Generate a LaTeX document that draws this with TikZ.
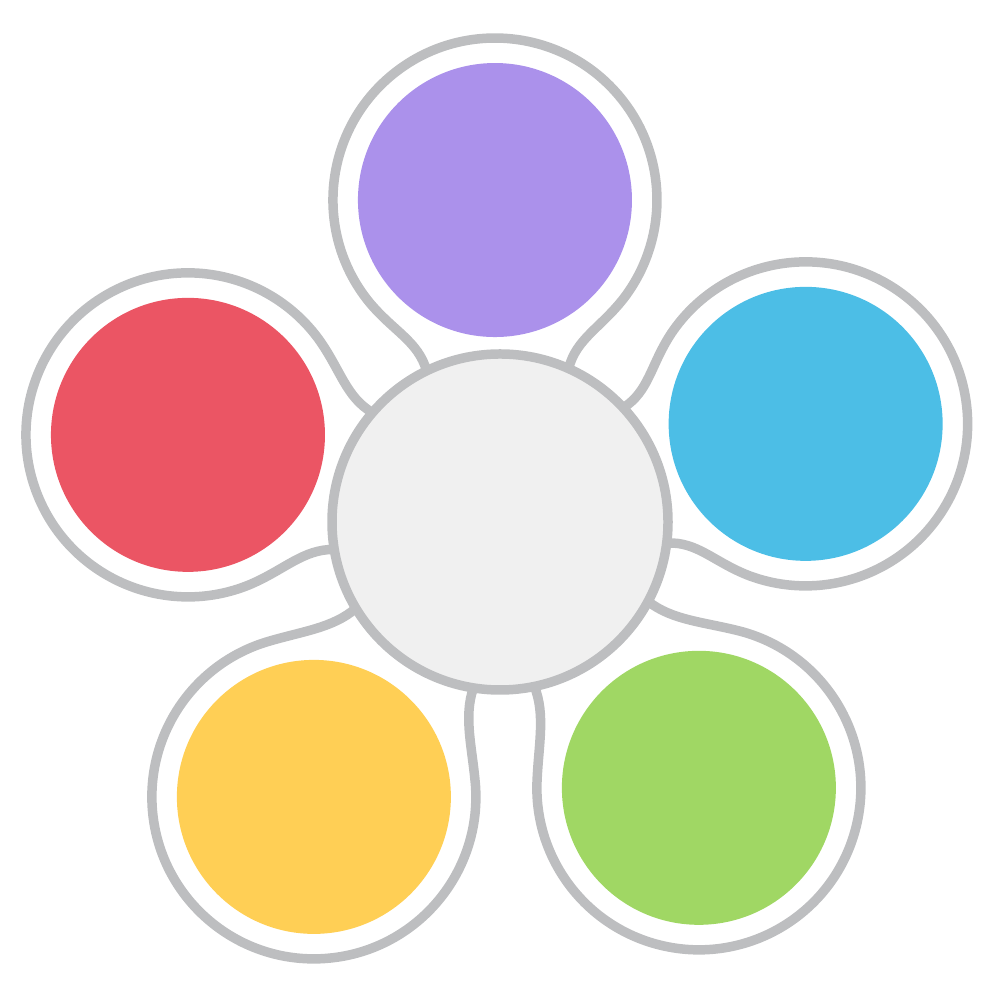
\documentclass[tikz,border=0pt]{standalone}
\usepackage{tikz}
\usetikzlibrary{calc}

\definecolor{ringgray}{HTML}{BDBEC0}
\definecolor{hubgray}{HTML}{F0F0F0}
\definecolor{petalviolet}{HTML}{AB91EB}
\definecolor{petalblue}{HTML}{4CBEE6}
\definecolor{petalgreen}{HTML}{A0D764}
\definecolor{petalyellow}{HTML}{FFCF55}
\definecolor{petalred}{HTML}{EB5564}

\begin{document}
\begin{tikzpicture}[
    ring/.style={draw=ringgray, line width=2.7pt},
    hub/.style={circle, draw=ringgray, line width=2.7pt, fill=hubgray, minimum size=3.36cm, inner sep=0pt},
    dot/.style={circle, fill=#1, draw=none, minimum size=2.74cm, inner sep=0pt}
]
\useasboundingbox (0,0) rectangle (10,10);

% Petals: outline with neck, then coloured dot
\foreach \ang/\dist/\col/\nm in {90.9/3.22/petalviolet/topdot,
    17.8/3.21/petalblue/rightdot, -53.2/3.32/petalgreen/greendot,
    -124.1/3.32/petalyellow/yellowdot, 164.4/3.24/petalred/leftdot}{
  \begin{scope}[shift={(5,4.78)}, rotate=\ang-90]
    \coordinate (\nm-a) at (115:1.68);
    \coordinate (\nm-b) at ($(0,\dist)+(218:1.62)$);
    \coordinate (\nm-c) at (65:1.68);
    \draw[ring] (\nm-a) .. controls +(-0.08,0.3) and +(0.24,-0.3) .. (\nm-b)
      arc[start angle=218, end angle=-38, radius=1.62]
      .. controls +(-0.24,-0.3) and +(0.08,0.3) .. (\nm-c);
    \node[dot=\col] (\nm) at (0,\dist) {};
  \end{scope}
}

% Centre
\node[hub] (hub) at (5,4.78) {};

\end{tikzpicture}
\end{document}
